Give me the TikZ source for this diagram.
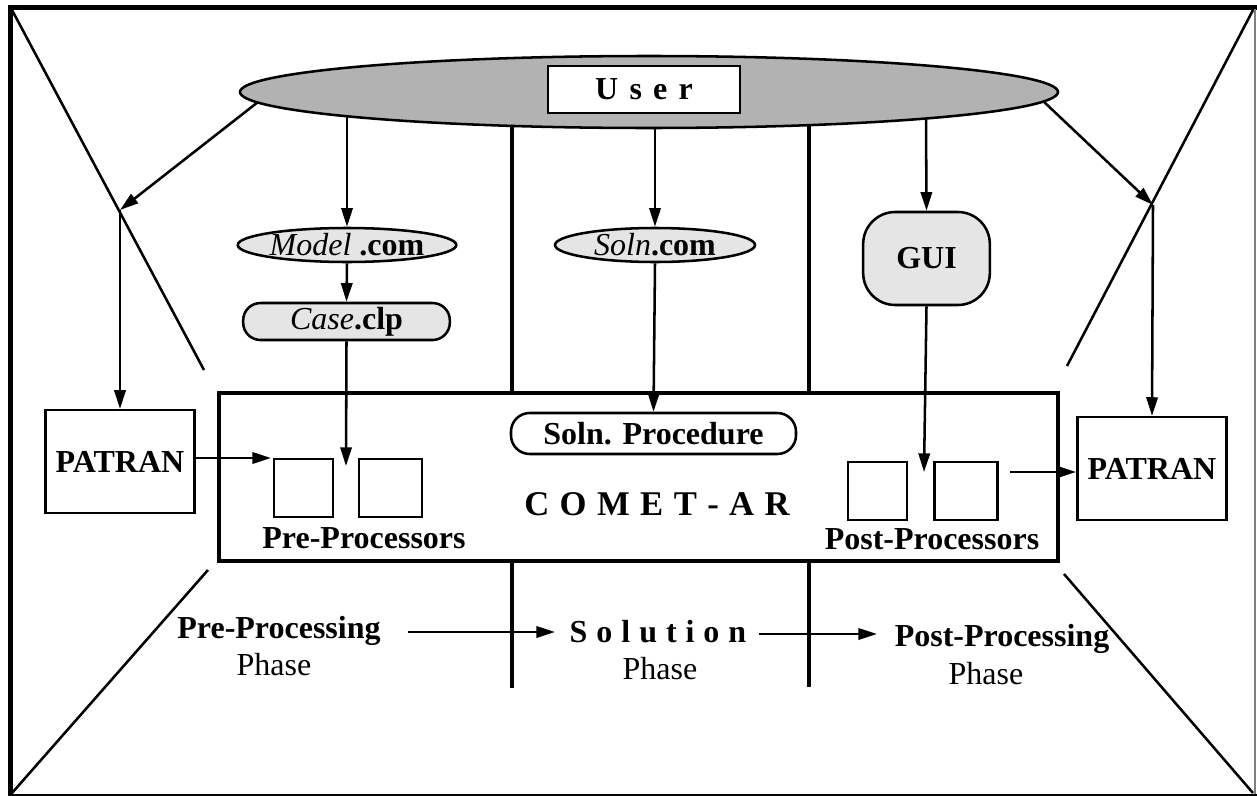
\documentclass[tikz,border=0pt]{standalone}
\usepackage{fontspec}
\setmainfont{Liberation Serif}
\usetikzlibrary{arrows.meta,shapes.geometric}
\definecolor{ellgray}{gray}{0.70}
\definecolor{lightg}{gray}{0.90}
\begin{document}
\begin{tikzpicture}[x=0.75pt,y=-0.75pt,
  lw/.style={line width=1.9pt},
  arr/.style={line width=1.9pt,-{Triangle[length=14pt,width=8.5pt]}},
  bar/.style={line width=3.2pt},
  txt/.style={font=\fontsize{24}{27}\selectfont\bfseries,inner sep=0pt},
  ptxt/.style={font=\fontsize{24}{27}\selectfont,inner sep=0pt},
  sq/.style={draw,line width=1.9pt,minimum height=43.5pt,inner sep=0pt},
  patbox/.style={draw,line width=1.9pt,minimum width=112pt,minimum height=77pt,inner sep=0pt,font=\fontsize{24}{27}\selectfont\bfseries},
  lozenge/.style={draw,line width=1.9pt,fill=lightg,inner sep=0pt,font=\fontsize{24}{27}\selectfont}
]
\useasboundingbox (0,0) rectangle (1257,796);
% outer frame
\draw[line width=3.75pt] (8,7) -- (1257,7);
\draw[line width=3.75pt] (10,5) -- (10,796);
\draw[line width=0.8pt,gray] (1255,9) -- (1255,796);
\draw[line width=2.2pt] (8,795) -- (1257,795);
% corner diagonals
\coordinate (tl) at (12,10);   \coordinate (tlE) at (204,370);
\coordinate (bl) at (12,793);  \coordinate (blE) at (208,570);
\coordinate (tr) at (1253,10); \coordinate (trE) at (1067,366);
\coordinate (br) at (1253,793);\coordinate (brE) at (1064,574);
\draw[lw] (tl) -- (tlE);
\draw[lw] (bl) -- (blE);
\draw[lw] (tr) -- (trE);
\draw[lw] (br) -- (brE);
% dividers
\coordinate (d1t) at (512,124); \coordinate (d1m) at (512,393);
\coordinate (d1n) at (512,561); \coordinate (d1b) at (512,688);
\coordinate (d2t) at (809,122); \coordinate (d2m) at (809,393);
\coordinate (d2n) at (809,561); \coordinate (d2b) at (809,687);
\draw[bar] (d1t) -- (d1m);
\draw[bar] (d1n) -- (d1b);
\draw[bar] (d2t) -- (d2m);
\draw[bar] (d2n) -- (d2b);
% user ellipse and box
\node[ellipse,draw,line width=1.9pt,fill=ellgray,minimum width=613.5pt,minimum height=54pt,inner sep=0pt] (uell) at (649,92) {};
\node[draw,line width=1.9pt,fill=white,minimum width=144pt,minimum height=35.25pt,txt] (user) at (644,89.5) {U\hspace{0.35em}s\hspace{0.35em}e\hspace{0.35em}r};
% COMET-AR box
\node[draw,line width=3.6pt,minimum width=629.25pt,minimum height=126pt,inner sep=0pt] (comet) at (638.5,477) {};
\node[font=\fontsize{26}{30}\selectfont\bfseries,inner sep=0pt,anchor=base] (cometlbl) at (657,515) {C\hspace{0.3em}O\hspace{0.3em}M\hspace{0.3em}E\hspace{0.3em}T\hspace{0.3em}-\hspace{0.3em}A\hspace{0.3em}R};
% inputs
\node[ellipse,lozenge,minimum width=155pt,minimum height=25.5pt] (model) at (347,245) {\textit{Model} \textbf{.com}};
\node[lozenge,rounded corners=13pt,minimum width=155pt,minimum height=27.75pt] (case) at (346.5,321.5) {\textit{Case}\textbf{.clp}};
\node[ellipse,lozenge,minimum width=150pt,minimum height=25.5pt] (soln) at (655,245) {\textit{Soln}\textbf{.com}};
\node[lozenge,rounded corners=24pt,minimum width=95pt,minimum height=69.75pt,font=\fontsize{24}{27}\selectfont\bfseries] (gui) at (926.5,258.5) {GUI};
\node[draw,line width=1.9pt,rounded corners=14pt,minimum width=213.75pt,minimum height=30.75pt,inner sep=0pt,txt] (solproc) at (653.5,433.5) {Soln. Procedure};
% processors
\node[sq,minimum width=44.25pt] (pre1) at (303.5,488) {};
\node[sq,minimum width=47.25pt] (pre2) at (390.5,488) {};
\node[sq,minimum width=44.25pt] (post1) at (877.5,491) {};
\node[sq,minimum width=47.25pt] (post2) at (966,491) {};
\node[txt,anchor=base] (prelbl) at (364,548) {Pre-Processors};
\node[txt,anchor=base] (postlbl) at (932,549) {Post-Processors};
% PATRAN boxes
\node[patbox] (patL) at (120,461.5) {PATRAN};
\node[patbox] (patR) at (1152,468.5) {PATRAN};
% connector end points
\coordinate (e1) at (258,102);
\coordinate (e2) at (347,117);
\coordinate (e3) at (655,127);
\coordinate (e4) at (926,118);
\coordinate (e5) at (1043,101);
\coordinate (jl) at (120,210);
\coordinate (jr) at (1153,205);
\coordinate (cpre) at (346,466);
\coordinate (cpost) at (924,472);
\coordinate (pst) at (1010,472);
\coordinate (prein) at (271,458);
% connectors
\draw[arr] (e1) -- (jl);
\draw[arr] (jl) -- (patL.north);
\draw[arr] (e5) -- (jr);
\draw[arr] (jr) -- (patR.north);
\draw[arr] (e2) -- (model.north);
\draw[arr] (model.south) -- (case.north);
\draw[arr] (case.south) -- (cpre);
\draw[arr] (e3) -- (soln.north);
\draw[arr] (soln.south) -- (solproc.north);
\draw[arr] (e4) -- (gui.north);
\draw[arr] (gui.south) -- (cpost);
\draw[arr] (patL.east |- prein) -- (prein);
\draw[arr] (pst) -- (patR.west |- pst);
% phases
\node[txt,anchor=base] (prep) at (279,638) {Pre-Processing};
\node[ptxt,anchor=base] (ph1) at (274,675) {Phase};
\node[txt,anchor=base] (sol) at (658,642) {S\hspace{0.28em}o\hspace{0.28em}l\hspace{0.28em}u\hspace{0.28em}t\hspace{0.28em}i\hspace{0.28em}o\hspace{0.28em}n};
\node[ptxt,anchor=base] (ph2) at (660,679) {Phase};
\node[txt,anchor=base] (postp) at (1002,646) {Post-Processing};
\node[ptxt,anchor=base] (ph3) at (986,684) {Phase};
\coordinate (a1s) at (408,632); \coordinate (a1e) at (555,632);
\coordinate (a2s) at (759,634); \coordinate (a2e) at (877,634);
\draw[arr] (a1s) -- (a1e);
\draw[arr] (a2s) -- (a2e);
\end{tikzpicture}
\end{document}
